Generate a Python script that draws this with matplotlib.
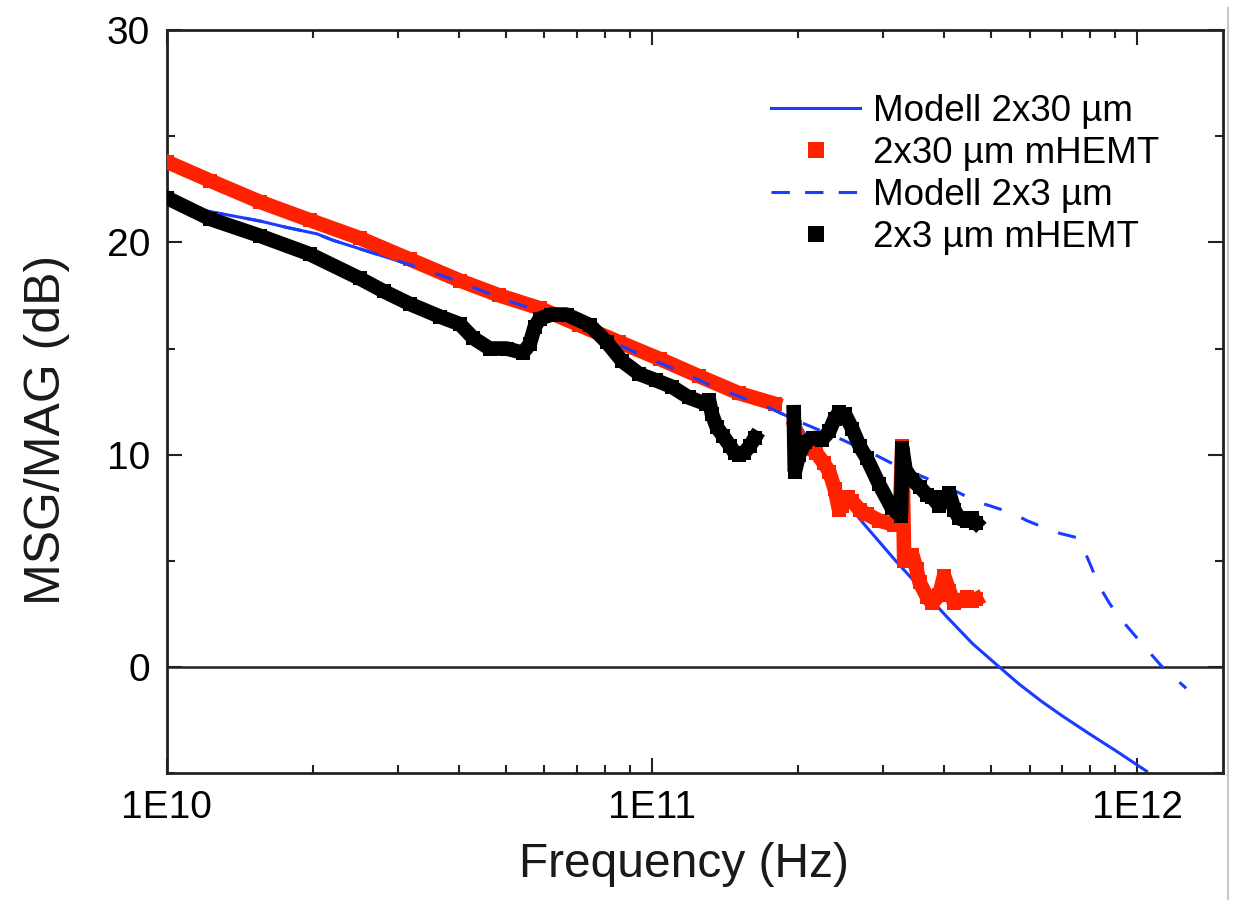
import numpy as np
import matplotlib
matplotlib.use("Agg")
import matplotlib.pyplot as plt
from matplotlib.lines import Line2D
from matplotlib.ticker import FixedLocator, FixedFormatter, LogLocator, NullFormatter, MultipleLocator

plt.rcParams["font.family"] = ["Liberation Sans", "DejaVu Sans"]

# ---- measured and simulated gain (frequency in GHz, gain in dB) ----
# model, 2x30 um device
model30_ghz = [10, 11.9, 13.3, 15.6, 17.7, 20.4, 22.0, 26.2, 30.7, 37.8, 43.7, 51.3, 59.6,
               86.9, 98, 115, 134, 175, 199, 211, 226, 240, 255, 272, 318, 404, 458, 520,
               571, 634, 701, 798, 912, 1045]
model30_db = [21.8, 21.5, 21.3, 21.0, 20.7, 20.4, 20.1, 19.55, 19.05, 18.35, 17.8, 17.2, 16.7,
              15.1, 14.55, 13.9, 13.2, 12.2, 11.6, 10.6, 9.4, 8.2, 7.6, 6.8, 5.0, 2.4, 1.1, 0.0,
              -0.8, -1.6, -2.3, -3.15, -4.0, -4.9]

# model, 2x3 um device
model3_ghz = [10, 11.9, 13.3, 15.6, 17.7, 20.4, 22.0, 26.2, 30.7, 37.8, 43.7, 51.3, 59.6, 86.9,
              98, 115, 134, 175, 199, 247, 294, 318, 404, 430, 466, 512, 553, 592, 638, 692,
              750, 771, 798, 836, 877, 918, 1023, 1127, 1262]
model3_db = [21.8, 21.5, 21.3, 21.0, 20.7, 20.4, 20.1, 19.55, 19.05, 18.35, 17.8, 17.2, 16.7,
             15.1, 14.55, 13.9, 13.2, 12.2, 11.6, 10.7, 9.9, 9.5, 8.5, 8.2, 7.8, 7.5, 7.25, 6.9,
             6.6, 6.3, 6.1, 5.7, 4.9, 3.8, 3.0, 2.35, 1.1, 0.0, -1.0]

# measurement, 2x30 um mHEMT (two frequency bands)
meas30_band1_ghz = [10, 12.3, 15.6, 19.7, 25.0, 31.7, 40.2, 48.5, 58.7, 70.9, 85.7, 104, 125, 151, 179]
meas30_band1_db = [23.8, 22.9, 21.9, 21.05, 20.2, 19.2, 18.2, 17.5, 16.9, 16.1, 15.3, 14.5, 13.7, 12.9, 12.4]
meas30_band2_ghz = [197, 201, 211, 218, 226, 232, 238, 243, 247, 253, 259, 268, 277, 294, 316, 324,
                    328, 331, 336, 344, 351, 356, 369, 378, 391, 400, 410, 420, 430, 445, 457, 466]
meas30_band2_db = [11.3, 10.6, 10.3, 10.1, 9.6, 9.2, 8.4, 7.4, 7.6, 8.0, 7.8, 7.4, 7.2, 6.9, 6.7, 6.9,
                   10.4, 5.0, 5.2, 5.3, 4.6, 4.0, 3.3, 3.0, 3.4, 4.3, 3.6, 3.0, 3.1, 3.3, 3.1, 3.2]

# measurement, 2x3 um mHEMT (two frequency bands)
meas3_band1_ghz = [10, 12.3, 15.6, 19.7, 25.0, 28.0, 31.7, 36.6, 40.2, 42.8, 46.3, 50.2, 54.2, 56.0,
                   57.3, 58.7, 62, 66.7, 74.5, 80.7, 86.9, 94.2, 102, 110, 119, 129, 131, 133, 136,
                   140, 145, 148, 151, 155, 159, 163]
meas3_band1_db = [22.1, 21.1, 20.3, 19.45, 18.3, 17.7, 17.1, 16.5, 16.15, 15.5, 15.0, 15.0, 14.8, 15.2,
                  16.0, 16.4, 16.6, 16.6, 16.1, 15.3, 14.4, 13.8, 13.5, 13.2, 12.7, 12.4, 12.6, 11.9, 11.3,
                  10.9, 10.4, 10.1, 10.0, 10.1, 10.4, 10.8]
meas3_band2_ghz = [196, 197, 201, 207, 215, 224, 232, 238, 243, 250, 259, 268, 277, 294, 312, 326,
                   328, 333, 344, 356, 369, 378, 391, 404, 410, 420, 430, 445, 457, 466]
meas3_band2_db = [12.0, 9.2, 10.0, 10.6, 10.8, 10.7, 11.1, 11.7, 12.0, 11.9, 11.2, 10.4, 9.85, 8.6,
                  7.5, 7.1, 10.3, 9.3, 8.8, 8.5, 8.1, 8.0, 7.6, 8.0, 8.2, 7.4, 7.0, 6.9, 7.0, 6.8]

x_tick_values = [1e10, 1e11, 1e12]
x_tick_labels = ["1E10", "1E11", "1E12"]
y_tick_values = [0, 10, 20, 30]

labels = ["Modell 2x30 µm", "2x30 µm mHEMT", "Modell 2x3 µm", "2x3 µm mHEMT"]

BLUE = "#1a3cff"
RED = "#ff2200"
BLACK = "#000000"
GHZ = 1e9
BAND_W = 10.5  # points

fig = plt.figure(figsize=(12.39, 9), dpi=100)
ax = fig.add_axes([0.1345, 0.1408, 0.8523, 0.8259])

ax.axhline(0, color="#222222", lw=1.8, zorder=1.2)

# model 2x30 (drawn underneath the measured bands)
ax.plot(np.array(model30_ghz) * GHZ, model30_db, color=BLUE, lw=2.2, zorder=2)


def draw_band(freq_ghz, gain_db, color, z):
    f = np.array(freq_ghz) * GHZ
    ax.plot(f, gain_db, color=color, lw=BAND_W, solid_joinstyle="bevel",
            solid_capstyle="projecting", zorder=z)
    ax.plot(f, gain_db, ls="none", marker="s", ms=BAND_W, mec=color, mfc=color,
            mew=0, zorder=z)


draw_band(meas30_band1_ghz, meas30_band1_db, RED, 3)
draw_band(meas30_band2_ghz, meas30_band2_db, RED, 3)

# model 2x3 (dashed, above the red band)
ax.plot(np.array(model3_ghz) * GHZ, model3_db, color=BLUE, lw=2.2, dashes=(6, 7), zorder=4)

draw_band(meas3_band1_ghz, meas3_band1_db, BLACK, 5)
draw_band(meas3_band2_ghz, meas3_band2_db, BLACK, 5)

ax.set_xscale("log")
ax.set_xlim(1e10, 1.5e12)
ax.set_ylim(-5, 30)

ax.xaxis.set_major_locator(FixedLocator(x_tick_values))
ax.xaxis.set_major_formatter(FixedFormatter(x_tick_labels))
ax.xaxis.set_minor_locator(LogLocator(base=10, subs=np.arange(2, 10)))
ax.xaxis.set_minor_formatter(NullFormatter())
ax.yaxis.set_major_locator(FixedLocator(y_tick_values))
ax.yaxis.set_minor_locator(MultipleLocator(5))

ax.tick_params(which="both", direction="in", top=True, right=True,
               color="#222222", width=1.5, labelsize=28, pad=12)
ax.tick_params(which="major", length=11)
ax.tick_params(which="minor", length=6)
for s in ax.spines.values():
    s.set_linewidth(2.0)
    s.set_color("#222222")

ax.set_xlabel("Frequency (Hz)", fontsize=34.5, color="#1a1a1a")
ax.set_ylabel("MSG/MAG (dB)", fontsize=36, color="#1a1a1a")
ax.xaxis.set_label_coords(0.49, -0.123)
ax.xaxis.label.set_va("center")
ax.yaxis.set_label_coords(-0.113, 0.462)
ax.yaxis.label.set_va("center")

handles = [
    Line2D([], [], color=BLUE, lw=2.2),
    Line2D([], [], ls="none", marker="s", ms=11, color=RED, mew=0),
    Line2D([], [], color=BLUE, lw=2.2, dashes=(6, 5)),
    Line2D([], [], ls="none", marker="s", ms=11, color=BLACK, mew=0),
]
ax.legend(handles, labels, loc="upper left", bbox_to_anchor=(0.5727, 0.914),
          frameon=False, fontsize=26.5, handlelength=2.4, handletextpad=0.35,
          labelspacing=0.19, borderpad=0, borderaxespad=0)

# thin page edge at the right border
fig.add_artist(Line2D([1228 / 1239] * 2, [0, 1 - 8 / 900], transform=fig.transFigure,
                      color="#c8c8c8", lw=1.5))

fig.savefig("out.png", dpi=100, facecolor="white")
